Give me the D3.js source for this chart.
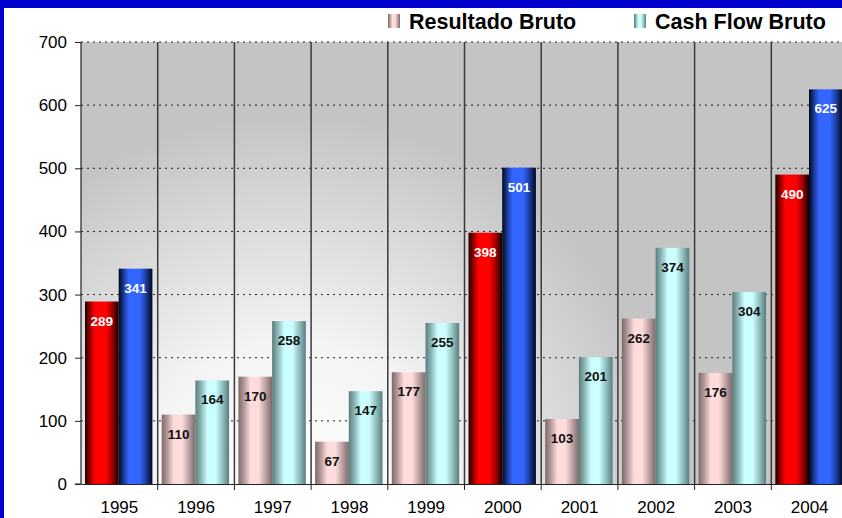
<!DOCTYPE html>
<html>
<head>
<meta charset="utf-8">
<script src="https://cdn.jsdelivr.net/npm/d3@7"></script>
<style>
  html, body { margin: 0; padding: 0; background: #0000cc; }
  svg { display: block; font-family: "Liberation Sans", Arial, sans-serif; }
</style>
</head>
<body>
<svg id="chart" width="842" height="518"></svg>
<script>
// chart data
const years = ["1995", "1996", "1997", "1998", "1999", "2000", "2001", "2002", "2003", "2004"];
const resultado = [289, 110, 170, 67, 177, 398, 103, 262, 176, 490];
const cashFlow = [341, 164, 258, 147, 255, 501, 201, 374, 304, 625];
const highlight = ["1995", "2000", "2004"];
const yTicks = [0, 100, 200, 300, 400, 500, 600, 700];
const seriesNames = ["Resultado Bruto", "Cash Flow Bruto"];

const svg = d3.select("#chart");
const W = 842, H = 518;
const plotLeft = 81, plotTop = 42, plotBottom = 484;
const bandW = 76.7;

const x = d3.scaleBand().domain(years).range([plotLeft, plotLeft + bandW * years.length]).padding(0);
const y = d3.scaleLinear().domain([0, 700]).range([plotBottom, plotTop]);

const defs = svg.append("defs");

// horizontal cylinder gradients for bars
const grad = (id, stops) => {
    const g = defs.append("linearGradient").attr("id", id).attr("x1", "0").attr("x2", "1").attr("y1", "0").attr("y2", "0");
    stops.forEach(s => g.append("stop").attr("offset", s[0]).attr("stop-color", s[1]));
};
grad("gRed", [[0, "#1a0000"], [0.15, "#990000"], [0.3, "#ff0000"], [0.62, "#ff0000"], [0.82, "#990000"], [1, "#0d0000"]]);
grad("gBlue", [[0, "#000818"], [0.15, "#1a3a99"], [0.3, "#3366ff"], [0.62, "#3366ff"], [0.82, "#1a3a99"], [1, "#000818"]]);
grad("gPink", [[0, "#7d6868"], [0.18, "#b89e9e"], [0.36, "#ffdcdc"], [0.6, "#ffdcdc"], [0.82, "#b89e9e"], [1, "#7d6868"]]);
grad("gCyan", [[0, "#5a7c7c"], [0.18, "#8fbaba"], [0.36, "#ccffff"], [0.6, "#ccffff"], [0.82, "#8fbaba"], [1, "#5a7c7c"]]);

// background radial gradient
const rg = defs.append("radialGradient").attr("id", "gBg").attr("gradientUnits", "userSpaceOnUse")
    .attr("cx", 290).attr("cy", 495).attr("r", 380);
rg.append("stop").attr("offset", 0).attr("stop-color", "#ffffff");
rg.append("stop").attr("offset", 0.4).attr("stop-color", "#f4f4f4");
rg.append("stop").attr("offset", 1).attr("stop-color", "#c4c4c4");

defs.append("clipPath").attr("id", "clipAll").append("rect").attr("x", 4).attr("y", 8).attr("width", W).attr("height", H);

// white panel inside blue frame
svg.append("rect").attr("x", 4).attr("y", 8).attr("width", W - 4).attr("height", H - 8).attr("fill", "#ffffff");

const g = svg.append("g").attr("clip-path", "url(#clipAll)");

// plot background
g.append("rect").attr("x", plotLeft).attr("y", plotTop).attr("width", W - plotLeft).attr("height", plotBottom - plotTop).attr("fill", "url(#gBg)");

// dotted gridlines
g.append("g").selectAll("line").data(yTicks.slice(1)).enter().append("line")
    .attr("x1", plotLeft).attr("x2", W).attr("y1", d => y(d)).attr("y2", d => y(d))
    .attr("stroke", "#222").attr("stroke-width", 1).attr("stroke-dasharray", "2,4");

// vertical dividers
g.append("g").selectAll("line").data(years.slice(1)).enter().append("line")
    .attr("x1", d => x(d)).attr("x2", d => x(d)).attr("y1", plotTop).attr("y2", plotBottom)
    .attr("stroke", "#3a3a3a").attr("stroke-width", 1.5);

// bars
const barW = 33.7, offset = 4;
const rows = years.map((yr, i) => ({ yr, r: resultado[i], c: cashFlow[i], hi: highlight.includes(yr) }));

const grp = g.append("g").selectAll("g").data(rows).enter().append("g");

grp.append("rect")
    .attr("x", d => x(d.yr) + offset).attr("width", barW)
    .attr("y", d => y(d.r)).attr("height", d => y(0) - y(d.r))
    .attr("fill", d => d.hi ? "url(#gRed)" : "url(#gPink)");
grp.append("rect")
    .attr("x", d => x(d.yr) + offset + barW).attr("width", barW)
    .attr("y", d => y(d.c)).attr("height", d => y(0) - y(d.c))
    .attr("fill", d => d.hi ? "url(#gBlue)" : "url(#gCyan)");

grp.append("text")
    .attr("x", d => x(d.yr) + offset + barW / 2).attr("y", d => y(d.r) + 24)
    .attr("text-anchor", "middle").attr("font-size", 13.5).attr("font-weight", "bold")
    .attr("fill", d => d.hi ? "#fff" : "#111").text(d => d.r);
grp.append("text")
    .attr("x", d => x(d.yr) + offset + barW * 1.5).attr("y", d => y(d.c) + 24)
    .attr("text-anchor", "middle").attr("font-size", 13.5).attr("font-weight", "bold")
    .attr("fill", d => d.hi ? "#fff" : "#111").text(d => d.c);

// y axis
const yAxis = g.append("g").attr("transform", `translate(${plotLeft},0)`)
    .call(d3.axisLeft(y).tickValues(yTicks).tickSize(6).tickPadding(8));
yAxis.select(".domain").attr("stroke", "#222").attr("stroke-width", 1.2).attr("d", `M-6,${y(0)}H0V${plotTop}`);
yAxis.selectAll(".tick line").attr("stroke", "#222");
yAxis.selectAll(".tick text").attr("font-size", 17).attr("fill", "#000").attr("font-family", "Liberation Sans, Arial, sans-serif");

// x axis
const xAxis = g.append("g").attr("transform", `translate(0,${plotBottom})`)
    .call(d3.axisBottom(x).tickSize(0).tickPadding(17));
xAxis.select(".domain").attr("stroke", "#222").attr("stroke-width", 1.2);
xAxis.selectAll(".tick text").attr("font-size", 17).attr("fill", "#000").attr("font-family", "Liberation Sans, Arial, sans-serif");
xAxis.append("g").selectAll("line").data(years.slice(1)).enter().append("line")
    .attr("x1", d => x(d)).attr("x2", d => x(d)).attr("y1", 0).attr("y2", 6)
    .attr("stroke", "#222").attr("stroke-width", 1);

// legend
const legend = [
    { name: seriesNames[0], fill: "url(#gPink)", x: 388 },
    { name: seriesNames[1], fill: "url(#gCyan)", x: 634 }
];
const lg = g.append("g").selectAll("g").data(legend).enter().append("g");
lg.append("rect").attr("x", d => d.x).attr("y", 14).attr("width", 12).attr("height", 14).attr("fill", d => d.fill);
lg.append("text").attr("x", d => d.x + 21).attr("y", 29)
    .attr("font-size", 21.5).attr("font-weight", "bold").attr("fill", "#000").text(d => d.name);
</script>
</body>
</html>
